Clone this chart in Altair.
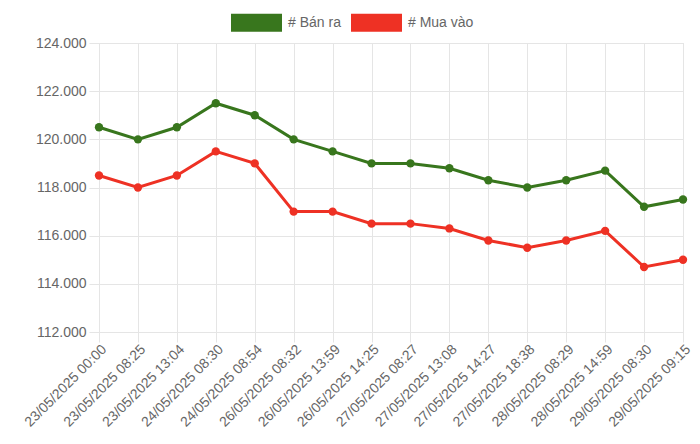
import altair as alt
import pandas as pd

times = [
    "23/05/2025 00:00", "23/05/2025 08:25", "23/05/2025 13:04", "24/05/2025 08:30",
    "24/05/2025 08:54", "26/05/2025 08:32", "26/05/2025 13:59", "26/05/2025 14:25",
    "27/05/2025 08:27", "27/05/2025 13:08", "27/05/2025 14:27", "27/05/2025 18:38",
    "28/05/2025 08:29", "28/05/2025 14:59", "29/05/2025 08:30", "29/05/2025 09:15",
]
ban_ra = [120500, 120000, 120500, 121500, 121000, 120000, 119500, 119000,
          119000, 118800, 118300, 118000, 118300, 118700, 117200, 117500]
mua_vao = [118500, 118000, 118500, 119500, 119000, 117000, 117000, 116500,
           116500, 116300, 115800, 115500, 115800, 116200, 114700, 115000]
series_names = ["# Bán ra", "# Mua vào"]
series_colors = ["#38761d", "#ee3124"]
y_ticks = [112000, 114000, 116000, 118000, 120000, 122000, 124000]

rows = []
for name, vals in zip(series_names, [ban_ra, mua_vao]):
    for t, v in zip(times, vals):
        rows.append({"time": t, "value": v, "series": name})
df = pd.DataFrame(rows)

FONT = "Liberation Sans"
GRID = "#e5e5e5"

x_enc = alt.X(
    "time:N", sort=times, title=None,
    scale=alt.Scale(type="point", padding=0),
    axis=alt.Axis(
        labelAngle=-45, labelAlign="right", labelBaseline="middle",
        labelOffset=5, labelPadding=5, tickSize=10, tickColor=GRID,
        domainColor=GRID, grid=True, gridColor=GRID,
        labelFont=FONT, labelFontSize=14, labelColor="#666666",
    ),
)
y_enc = alt.Y(
    "value:Q", title=None,
    scale=alt.Scale(domain=[112000, 124000], nice=False, zero=False),
    axis=alt.Axis(
        values=y_ticks, tickSize=10, tickColor=GRID, domainColor=GRID,
        grid=True, gridColor=GRID, labelPadding=3,
        labelExpr="replace(format(datum.value, ',.0f'), ',', '.')",
        labelFont=FONT, labelFontSize=14, labelColor="#666666",
    ),
)
color_enc = alt.Color(
    "series:N", sort=series_names,
    scale=alt.Scale(domain=series_names, range=series_colors),
    legend=alt.Legend(
        title=None, orient="none", legendX=132, legendY=-46,
        direction="horizontal",
        symbolType="M-1,-0.353L1,-0.353L1,0.353L-1,0.353Z",
        symbolSize=2601, symbolStrokeWidth=0, symbolOpacity=1,
        labelFont=FONT, labelFontSize=14, labelColor="#666666",
        labelOffset=6, columnPadding=10, padding=0,
    ),
)

base = alt.Chart(df).encode(x=x_enc, y=y_enc, color=color_enc)
lines = base.mark_line(strokeWidth=3)
points = base.mark_point(filled=True, size=70, opacity=1, shape="circle")

chart = (lines + points).properties(
    width=584, height=289,
    autosize=alt.AutoSizeParams(type="none"),
    padding={"left": 91, "top": 35, "right": 9, "bottom": 101},
).configure_view(stroke=None).configure(background="white")

chart.save("out.html", embed_options={"renderer": "svg", "actions": False})
